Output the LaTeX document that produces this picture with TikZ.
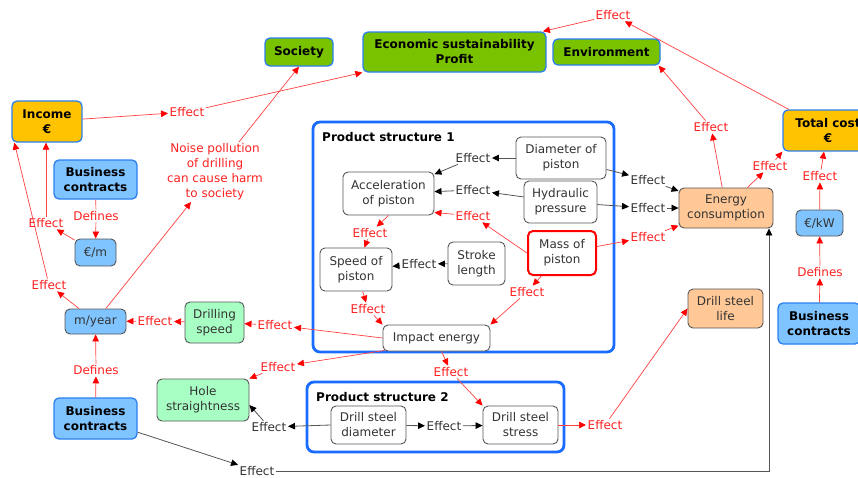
\documentclass[tikz,border=0pt]{standalone}
\usepackage{fontspec}
\setmainfont{DejaVu Sans}
\usetikzlibrary{arrows.meta}
\definecolor{cgreen}{HTML}{78C200}
\definecolor{cyel}{HTML}{FFC300}
\definecolor{cblue}{HTML}{80C4FF}
\definecolor{cbord}{HTML}{2A7FF0}
\definecolor{cmint}{HTML}{A8FFC4}
\definecolor{cpeach}{HTML}{FFC896}
\definecolor{cred}{HTML}{FF2020}
\definecolor{cgrey}{HTML}{555555}
\definecolor{ctext}{HTML}{333333}
\definecolor{cframe}{HTML}{1A6BFF}
\begin{document}
\begin{tikzpicture}[x=1pt,y=-1pt,
 every node/.style={font=\fontsize{12}{15}\selectfont, align=center, inner sep=0pt},
 sz/.style 2 args={minimum width=#1, minimum height=#2},
 box/.style={rounded corners=5pt, line width=0.9pt, draw=cgrey, fill=white, text=ctext},
 bbox/.style={rounded corners=5pt, line width=1.3pt, draw=cbord, text=black, font=\fontsize{12}{15}\selectfont\bfseries},
 gbox/.style={bbox, fill=cgreen},
 ybox/.style={bbox, fill=cyel},
 cbox/.style={bbox, fill=cblue},
 lbox/.style={box, fill=cblue},
 mbox/.style={box, fill=cmint},
 pbox/.style={box, fill=cpeach},
 frame/.style={draw=cframe, line width=2.8pt, rounded corners=7pt},
 lab/.style={text=cred, inner sep=1.5pt},
 blab/.style={text=ctext, inner sep=1.5pt},
 rn/.style={draw=cred!85!white, line width=0.7pt},
 ra/.style={rn, -{Triangle[length=7pt,width=6.5pt,color=red]}},
 kn/.style={draw=cgrey, line width=0.8pt},
 ka/.style={kn, -{Triangle[length=7pt,width=6.5pt,color=black]}}
]
\useasboundingbox (0,0) rectangle (858,477);
\clip (0,0) rectangle (858,477);

% frames
\draw[frame] (313,122) rectangle (614,352);
\draw[frame] (307,382) rectangle (564,452);
\node[anchor=west, font=\fontsize{12}{15}\selectfont\bfseries] (pt1) at (322,137) {Product structure 1};
\node[anchor=west, font=\fontsize{12}{15}\selectfont\bfseries] (pt2) at (316,397) {Product structure 2};

% top nodes
\node[gbox, sz={68pt}{28pt}] (soc) at (299,52) {Society};
\node[gbox, sz={183pt}{40pt}] (eco) at (454.5,52) {Economic sustainability\\Profit};
\node[gbox, sz={107pt}{26pt}] (env) at (606.5,52) {Environment};
\node[ybox, sz={90pt}{41pt}] (tc) at (828,130.5) {Total cost\\€};
\node[ybox, sz={70pt}{41pt}] (inc) at (47,121.5) {Income\\€};

% left
\node[cbox, sz={83pt}{39pt}] (bc1) at (95.5,179.5) {Business\\contracts};
\node[lbox, sz={41pt}{27pt}] (em) at (95.5,252.5) {€/m};
\node[lbox, sz={61pt}{25pt}] (my) at (95.5,321.5) {m/year};
\node[cbox, sz={83pt}{41pt}] (bc2) at (95.5,418.5) {Business\\contracts};
\node[mbox, sz={59pt}{41pt}] (ds) at (214.5,322.5) {Drilling\\speed};
\node[mbox, sz={92pt}{42pt}] (hs) at (203,400) {Hole\\straightness};

% product structure 1
\node[box, sz={90pt}{42pt}] (dp) at (561,158) {Diameter of\\piston};
\node[box, sz={73pt}{42pt}] (hp) at (560.5,202) {Hydraulic\\pressure};
\node[box, sz={91pt}{43pt}] (ap) at (388.5,193.5) {Acceleration\\of piston};
\node[box, sz={68pt}{44pt}, draw=red, line width=2pt] (mp) at (562,253) {Mass of\\piston};
\node[box, sz={57pt}{43pt}] (sl) at (476.5,263.5) {Stroke\\length};
\node[box, sz={72pt}{43pt}] (sp) at (356,269.5) {Speed of\\piston};
\node[box, sz={107pt}{26pt}] (ie) at (436.5,338) {Impact energy};

% product structure 2
\node[box, sz={75pt}{38pt}] (dsd) at (368.5,425) {Drill steel\\diameter};
\node[box, sz={75pt}{38pt}] (dss) at (520.5,425) {Drill steel\\stress};

% right
\node[pbox, sz={94pt}{40pt}] (ec) at (726,208) {Energy\\consumption};
\node[lbox, sz={47pt}{26pt}] (ekw) at (819.5,223) {€/kW};
\node[cbox, sz={82pt}{41pt}] (bc3) at (819,323.5) {Business\\contracts};
\node[pbox, sz={75pt}{39pt}] (dsl) at (725.5,308.5) {Drill steel\\life};

% labels
\node[lab] (L1) at (613,15) {Effect};
\node[lab] (L2) at (187,112) {Effect};
\node[lab] (noise) at (215,172) {Noise pollution\\of drilling\\can cause harm\\to society};
\node[lab] (L3) at (46,223) {Effect};
\node[lab] (D1) at (96,216) {Defines};
\node[lab] (L4) at (49,285) {Effect};
\node[lab] (L5) at (155,321) {Effect};
\node[lab] (L6) at (275,325) {Effect};
\node[lab] (L7) at (278,367) {Effect};
\node[lab] (L8) at (451,372) {Effect};
\node[blab] (L9) at (269,427) {Effect};
\node[blab] (L10) at (444,426) {Effect};
\node[lab] (L11) at (605,425) {Effect};
\node[blab] (L12) at (257,471) {Effect};
\node[lab] (D2) at (96,370) {Defines};
\node[lab] (D3) at (820,272) {Defines};
\node[lab] (L13) at (820,176) {Effect};
\node[lab] (L14) at (711,127) {Effect};
\node[lab] (L15) at (770,166) {Effect};
\node[blab] (L16) at (648,180) {Effect};
\node[blab] (L17) at (648,208) {Effect};
\node[lab] (L18) at (648,237) {Effect};
\node[blab] (L19) at (473,158) {Effect};
\node[blab] (L20) at (473,190) {Effect};
\node[lab] (L21) at (473,216) {Effect};
\node[lab] (L22) at (370,233) {Effect};
\node[blab] (L23) at (419,264) {Effect};
\node[lab] (L24) at (368,309) {Effect};
\node[lab] (L25) at (527,292) {Effect};

% connectors
\draw[ra] (tc) -- (L1);
\draw[ra] (L1) -- (eco);
\draw[ra] (inc) -- (L2);
\draw[ra] (L2) -- (eco);
\draw[ra] (my) -- (noise);
\draw[ra] (noise) -- (soc.south);
\draw[ra] (em) -- (L3);
\draw[ra] (L3) -- (L3 |- inc.south);
\draw[rn] (bc1) -- (D1);
\draw[ra] (D1) -- (em);
\draw[ra] (my) -- (L4);
\draw[ra] (L4) -- ([xshift=3pt]inc.south west);
\draw[ra] (ds) -- (L5);
\draw[ra] (L5) -- (my);
\draw[ra] (ie.west) -- (L6);
\draw[ra] (L6) -- (ds);
\draw[ra] ([xshift=2pt,yshift=1pt]ie.south west) -- (L7);
\draw[ra] (L7) -- (hs.north east);
\draw[ra] ([xshift=5pt]ie.south) -- (L8);
\draw[ra] (L8) -- (dss.north west);
\draw[ka] (dsd.west) -- (L9);
\draw[ka] (L9) -- ([yshift=-5pt]hs.east);
\draw[ka] (dsd) -- (L10);
\draw[ka] (L10) -- (dss);
\draw[ra] (dss) -- (L11);
\draw[ra] (L11) -- (dsl.west);
\draw[ka] (bc2) -- (L12);
\coordinate (c1) at (769,471);
\draw[ka] (L12.east) -- (c1) -- (c1 |- ec.south);
\draw[ra] (bc2) -- (D2);
\draw[ra] (D2) -- (my);
\draw[ra] (bc3) -- (D3);
\draw[ra] (D3) -- (ekw);
\draw[ra] (ekw) -- (L13);
\draw[ra] (L13) -- ([xshift=-4pt]tc.south);
\draw[ra] (ec) -- (L14);
\draw[ra] (L14) -- ([xshift=-2pt]env.south east);
\draw[ra] (ec) -- (L15);
\draw[ra] (L15) -- (tc.south west);
\draw[ka] (dp) -- (L16);
\draw[ka] (L16) -- (ec);
\draw[ka] (hp) -- (L17);
\draw[ka] (L17) -- (ec);
\draw[ra] (mp) -- (L18);
\draw[ra] (L18) -- (ec);
\draw[ka] (dp) -- (L19);
\draw[ka] (L19) -- (ap);
\draw[ka] (hp) -- (L20);
\draw[ka] (L20) -- (ap);
\draw[ra] (mp.west) -- (L21);
\draw[ra] (L21) -- ([yshift=3pt]ap.south east);
\draw[ra] (ap.south) -- (L22);
\draw[ra] (L22) -- (sp);
\draw[ka] (sl) -- (L23);
\draw[ka] (L23) -- (sp);
\draw[ra] (sp) -- (L24);
\draw[ra] (L24) -- (ie.north west);
\draw[ra] (mp) -- (L25);
\draw[ra] (L25) -- (ie.north east);
\end{tikzpicture}
\end{document}
